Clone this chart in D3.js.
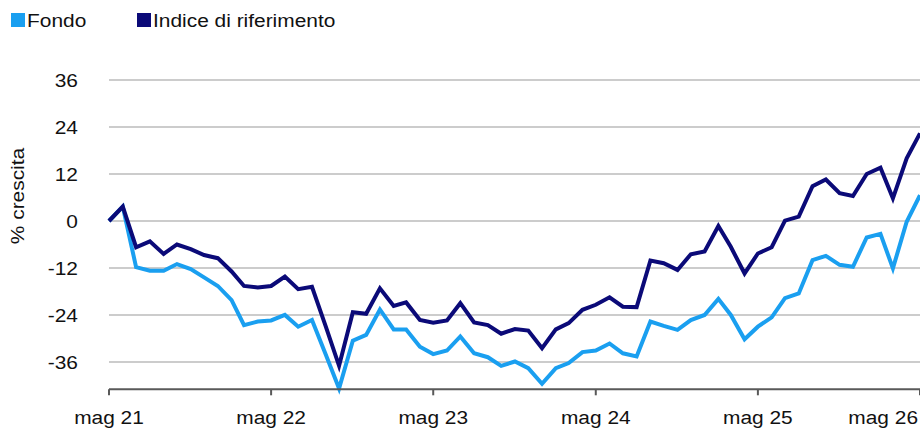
<!DOCTYPE html>
<html>
<head>
<meta charset="utf-8">
<script src="https://cdn.jsdelivr.net/npm/d3@7"></script>
<style>
  html, body { margin: 0; padding: 0; background: #fff; }
  svg { display: block; font-family: "Liberation Sans", Arial, sans-serif; }
</style>
</head>
<body>
<svg id="chart" width="920" height="428"></svg>
<script>
// monthly points, mag 2021 -> mag 2026
const months = [
  "2021-05","2021-06","2021-07","2021-08","2021-09","2021-10","2021-11","2021-12",
  "2022-01","2022-02","2022-03","2022-04","2022-05","2022-06","2022-07","2022-08",
  "2022-09","2022-10","2022-11","2022-12","2023-01","2023-02","2023-03","2023-04",
  "2023-05","2023-06","2023-07","2023-08","2023-09","2023-10","2023-11","2023-12",
  "2024-01","2024-02","2024-03","2024-04","2024-05","2024-06","2024-07","2024-08",
  "2024-09","2024-10","2024-11","2024-12","2025-01","2025-02","2025-03","2025-04",
  "2025-05","2025-06","2025-07","2025-08","2025-09","2025-10","2025-11","2025-12",
  "2026-01","2026-02","2026-03","2026-04","2026-05"
];

const fondo = [
  0, 3.7, -11.8, -12.7, -12.7, -11.0, -12.3, -14.4, -16.6, -20.2, -26.6, -25.7,
  -25.4, -24.0, -27.0, -25.3, -34.1, -42.8, -30.6, -29.1, -22.6, -27.7, -27.7, -32.1,
  -34.0, -33.1, -29.5, -33.8, -34.8, -37.0, -35.9, -37.6, -41.6, -37.6, -36.3, -33.5,
  -33.1, -31.3, -33.8, -34.6, -25.7, -26.8, -27.8, -25.3, -24.0, -19.9, -24.0, -30.2,
  -27.0, -24.6, -19.7, -18.5, -10.0, -8.9, -11.2, -11.7, -4.2, -3.3, -12.1, -0.2,
  6.6
];

const indice = [
  0, 3.7, -6.7, -5.2, -8.4, -6.0, -7.2, -8.7, -9.5, -12.9, -16.6, -17.0,
  -16.6, -14.2, -17.4, -16.8, -26.9, -37.0, -23.3, -23.7, -17.2, -21.7, -20.8, -25.3,
  -26.0, -25.4, -21.0, -25.9, -26.6, -28.8, -27.6, -28.0, -32.5, -27.7, -26.1, -22.7,
  -21.4, -19.5, -21.9, -22.0, -10.1, -10.8, -12.5, -8.5, -7.8, -1.3, -6.6, -13.4,
  -8.3, -6.7, 0.1, 1.1, 8.9, 10.6, 7.1, 6.4, 12.0, 13.6, 5.8, 16.0,
  22.4
];

const yTicks = [36, 24, 12, 0, -12, -24, -36];
const xTickDates = ["2021-05","2022-05","2023-05","2024-05","2025-05","2026-05"];
const xTickLabels = ["mag 21","mag 22","mag 23","mag 24","mag 25","mag 26"];

const legendItems = [
  { name: "Fondo", color: "#1a9ff0" },
  { name: "Indice di riferimento", color: "#0b0a78" }
];

const parse = d3.timeParse("%Y-%m");
const dates = months.map(parse);

const svg = d3.select("#chart");
const plotLeft = 109, plotRight = 920, plotTop = 52.7, plotBottom = 389.3;

const x = d3.scaleTime()
  .domain([dates[0], dates[dates.length - 1]])
  .range([plotLeft, plotRight]);

const y = d3.scaleLinear()
  .domain([-43, 43])
  .range([plotBottom, plotTop]);

const TEXT_STRETCH = 1.1;
const TEXT_COLOR = "#111111";

// gridlines
svg.append("g")
  .selectAll("line")
  .data(yTicks)
  .enter().append("line")
  .attr("x1", plotLeft)
  .attr("x2", plotRight)
  .attr("y1", d => y(d))
  .attr("y2", d => y(d))
  .attr("stroke", "#cccccc")
  .attr("stroke-width", 2);

// y labels
svg.append("g")
  .selectAll("text")
  .data(yTicks)
  .enter().append("text")
  .attr("transform", d => "translate(78," + (y(d) + 7) + ") scale(" + TEXT_STRETCH + ",1)")
  .attr("text-anchor", "end")
  .attr("font-size", 19)
  .attr("fill", TEXT_COLOR)
  .text(d => d);

// y axis title
svg.append("text")
  .attr("transform", "translate(24,196) rotate(-90) scale(" + TEXT_STRETCH + ",1)")
  .attr("text-anchor", "middle")
  .attr("font-size", 19)
  .attr("fill", TEXT_COLOR)
  .text("% crescita");

// lines
const line = d3.line()
  .x((d, i) => x(dates[i]))
  .y(d => y(d));

svg.append("path")
  .datum(fondo)
  .attr("d", line)
  .attr("fill", "none")
  .attr("stroke", legendItems[0].color)
  .attr("stroke-width", 4)
  .attr("stroke-linejoin", "miter");

svg.append("path")
  .datum(indice)
  .attr("d", line)
  .attr("fill", "none")
  .attr("stroke", legendItems[1].color)
  .attr("stroke-width", 4)
  .attr("stroke-linejoin", "miter");

// x axis
const xAxis = svg.append("g").attr("transform", "translate(0," + plotBottom + ")");
xAxis.append("line")
  .attr("x1", plotLeft)
  .attr("x2", plotRight)
  .attr("stroke", "#595959")
  .attr("stroke-width", 2);

xAxis.selectAll(".tick")
  .data(xTickDates)
  .enter().append("line")
  .attr("class", "tick")
  .attr("x1", d => x(parse(d)))
  .attr("x2", d => x(parse(d)))
  .attr("y1", 0)
  .attr("y2", 6)
  .attr("stroke", "#595959")
  .attr("stroke-width", 2);

xAxis.selectAll(".tlabel")
  .data(xTickDates)
  .enter().append("text")
  .attr("class", "tlabel")
  .attr("font-size", 19)
  .attr("fill", TEXT_COLOR)
  .attr("text-anchor", "middle")
  .text((d, i) => xTickLabels[i])
  .each(function(d) {
    let cx = x(parse(d));
    const w = this.getComputedTextLength() * TEXT_STRETCH;
    if (cx + w / 2 > 918) cx = 918 - w / 2;
    d3.select(this).attr("transform", "translate(" + cx + ",35) scale(" + TEXT_STRETCH + ",1)");
  });

// legend
const legendX = [11, 137];
const legend = svg.append("g");
legendItems.forEach((item, i) => {
  legend.append("rect")
    .attr("x", legendX[i])
    .attr("y", 13)
    .attr("width", 14)
    .attr("height", 14)
    .attr("fill", item.color);
  legend.append("text")
    .attr("transform", "translate(" + (legendX[i] + 16) + ",27) scale(" + TEXT_STRETCH + ",1)")
    .attr("font-size", 19)
    .attr("fill", TEXT_COLOR)
    .text(item.name);
});
</script>
</body>
</html>
